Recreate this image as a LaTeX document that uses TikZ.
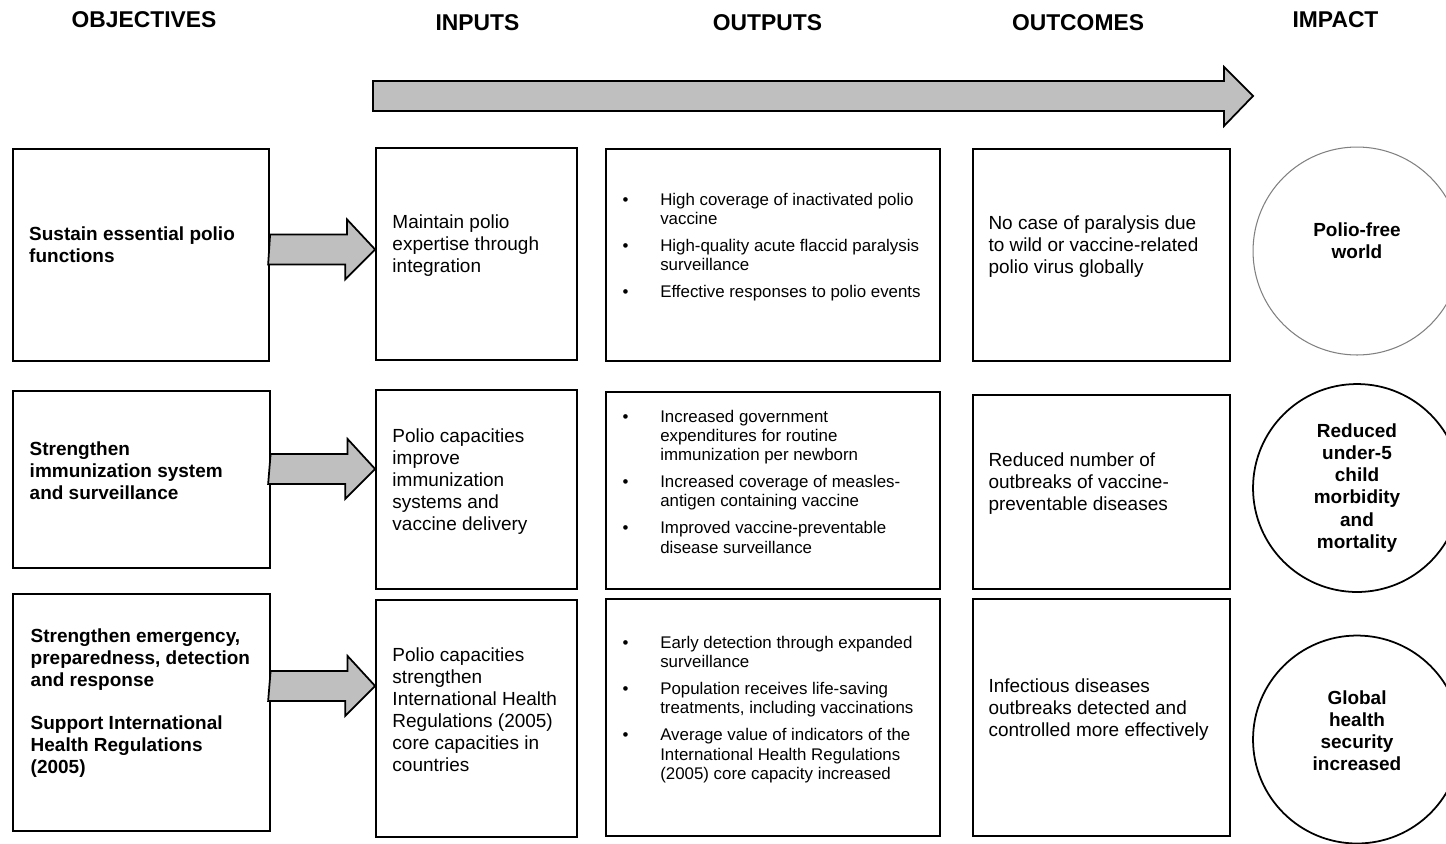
\documentclass[tikz,border=0pt]{standalone}
\usepackage{fontspec}
\setmainfont{Liberation Sans}
\usetikzlibrary{positioning,calc}
\newcommand{\outbul}{\makebox[21.5pt][l]{\textbullet}}
\newcommand{\outind}{\hspace*{21.5pt}}
\tikzset
{
    box/.style      = {draw=black, line width=1pt, inner sep=0pt},
    objbox/.style   = {box, minimum width=5.13cm},
    inbox/.style    = {box, minimum width=4.02cm},
    outbox/.style   = {box, minimum width=6.68cm},
    resbox/.style   = {box, minimum width=5.14cm},
    impact/.style   = {circle, draw=black, line width=1pt, minimum size=4.16cm, inner sep=0pt},
    head/.style     = {font=\fontsize{13}{15}\selectfont\bfseries},
    txt/.style      = {anchor=west, align=left, inner sep=0pt, font=\fontsize{10.8}{12.5}\selectfont},
    btxt/.style     = {txt, font=\fontsize{10.8}{12.5}\selectfont\bfseries},
    bullets/.style  = {txt, font=\fontsize{9.6}{11}\selectfont},
    imptxt/.style   = {align=center, inner sep=0pt, font=\fontsize{10.8}{12.6}\selectfont\bfseries},
    fatarrow/.style = {draw=black, line width=1pt, fill=gray!50, line join=miter}
}

\begin{document}
\begin{tikzpicture}[x=0.02cm, y=-0.02cm]
    \useasboundingbox (0,0) rectangle (1446,843);

    % column titles
    \node [head] (hobj) at (144,20)    {OBJECTIVES};
    \node [head] (hin)  at (477.5,23)  {INPUTS};
    \node [head] (hout) at (767.5,23)  {OUTPUTS};
    \node [head] (hres) at (1078,23)   {OUTCOMES};
    \node [head] (himp) at (1335.5,20) {IMPACT};

    % long arrow under the titles
    \coordinate (big) at (373,96);
    \draw [fatarrow] (big) ++(0,-15) -- ++(851,0) -- ++(0,-14) -- ++(29,29)
        -- ++(-29,30) -- ++(0,-15) -- ++(-851,0) -- cycle;

    % objectives
    \node [objbox, minimum height=4.24cm] (obj1) at (141,255) {};
    \node [objbox, minimum height=3.54cm] (obj2) at (141.5,479.5) {};
    \node [objbox, minimum height=4.74cm] (obj3) at (141.5,712.5) {};
    \node [btxt] (obj1t) at ([shift={(17,-10)}]obj1.west) {Sustain essential polio\\functions};
    \node [btxt] (obj2t) at ([shift={(17,-9)}]obj2.west) {Strengthen\\immunization system\\and surveillance};
    \node [btxt] (obj3t) at ([shift={(18,-9)}]obj3.west) {Strengthen emergency,\\preparedness, detection\\and response\\[12pt]Support International\\Health Regulations\\(2005)};

    % inputs
    \node [inbox, minimum height=4.24cm] (in1) at (476.5,254) {};
    \node [inbox, minimum height=3.98cm] (in2) at (476.5,489.5) {};
    \node [inbox, minimum height=4.74cm] (in3) at (476.5,718.5) {};
    \node [txt] (in1t) at ([shift={(17,-8)}]in1.west) {Maintain polio\\expertise through\\integration};
    \node [txt] (in2t) at ([shift={(17,-8)}]in2.west) {Polio capacities\\improve\\immunization\\systems and\\vaccine delivery};
    \node [txt] (in3t) at ([shift={(17,-9)}]in3.west) {Polio capacities\\strengthen\\International Health\\Regulations (2005)\\core capacities in\\countries};

    % outputs
    \node [outbox, minimum height=4.24cm] (out1) at (773,255) {};
    \node [outbox, minimum height=3.94cm] (out2) at (773,490.5) {};
    \node [outbox, minimum height=4.74cm] (out3) at (773,717.5) {};
    \node [bullets] (out1t) at ([shift={(17,-8)}]out1.west)
        {\outbul High coverage of inactivated polio\\\outind vaccine\\[4.3pt]
         \outbul High-quality acute flaccid paralysis\\\outind surveillance\\[4.3pt]
         \outbul Effective responses to polio events};
    \node [bullets] (out2t) at ([shift={(17,-9)}]out2.west)
        {\outbul Increased government\\\outind expenditures for routine\\\outind immunization per newborn\\[4.3pt]
         \outbul Increased coverage of measles-\\\outind antigen containing vaccine\\[4.3pt]
         \outbul Improved vaccine-preventable\\\outind disease surveillance};
    \node [bullets] (out3t) at ([shift={(17,-8)}]out3.west)
        {\outbul Early detection through expanded\\\outind surveillance\\[4.3pt]
         \outbul Population receives life-saving\\\outind treatments, including vaccinations\\[4.3pt]
         \outbul Average value of indicators of the\\\outind International Health Regulations\\\outind (2005) core capacity increased};

    % outcomes
    \node [resbox, minimum height=4.24cm] (res1) at (1101.5,255) {};
    \node [resbox, minimum height=3.88cm] (res2) at (1101.5,492) {};
    \node [resbox, minimum height=4.74cm] (res3) at (1101.5,717.5) {};
    \node [txt] (res1t) at ([shift={(16,-8)}]res1.west) {No case of paralysis due\\to wild or vaccine-related\\polio virus globally};
    \node [txt] (res2t) at ([shift={(16,-8)}]res2.west) {Reduced number of\\outbreaks of vaccine-\\preventable diseases};
    \node [txt] (res3t) at ([shift={(16,-8)}]res3.west) {Infectious diseases\\outbreaks detected and\\controlled more effectively};

    % impact
    \node [impact, draw=gray, line width=0.6pt] (imp1) at (1357,251) {};
    \node [impact] (imp2) at (1357,488) {};
    \node [impact] (imp3) at (1357,739.5) {};
    \node [imptxt] (imp1t) at ([shift={(0,-10.5)}]imp1.center) {Polio-free\\world};
    \node [imptxt] (imp2t) at (imp2.center) {Reduced\\under-5\\child\\morbidity\\and\\mortality};
    \node [imptxt] (imp3t) at ([shift={(0,-9)}]imp3.center) {Global\\health\\security\\increased};

    % arrows from objectives to inputs
    \coordinate (tip1) at (in1.west |- 0,249.5);
    \coordinate (tip2) at (in2.west |- 0,469);
    \coordinate (tip3) at (in3.west |- 0,686);
    \foreach \i in {1,2,3}
    {
        \draw [fatarrow] (obj\i.east |- tip\i) ++(0,-15) -- ++(77,0) -- ++(0,-15) -- (tip\i)
            -- ++(-30,30) -- ++(0,-15) -- ++(-77,0) -- cycle;
    }
\end{tikzpicture}
\end{document}
